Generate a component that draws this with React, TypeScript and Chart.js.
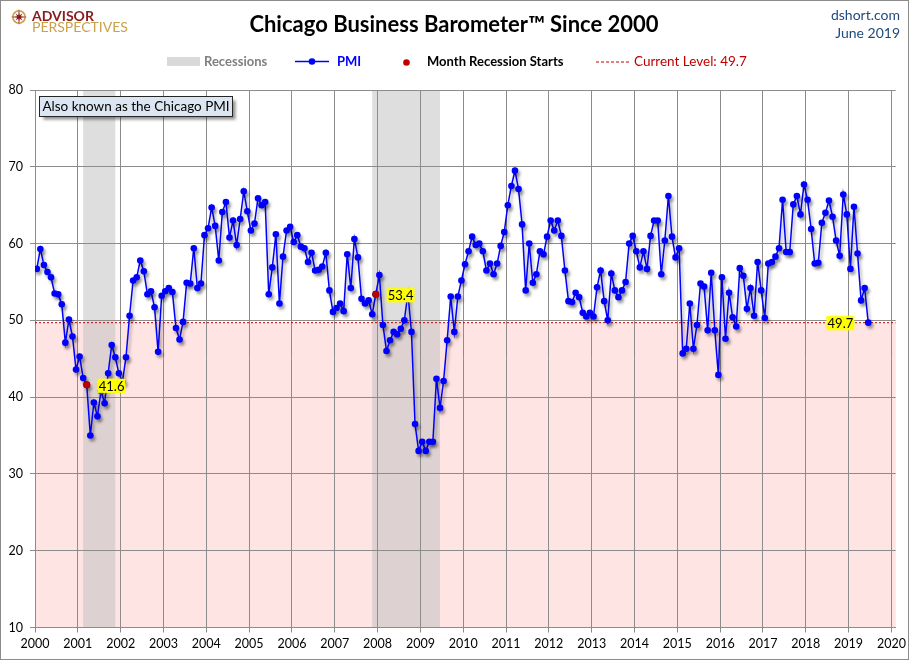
import React, { useEffect, useRef } from "react";
import { Chart, registerables } from "chart.js";

Chart.register(...registerables);

// ---------- DATA ----------
const START_YEAR = 2000;
const pmi2000 = [56.7, 59.3, 57.2, 56.3, 55.6, 53.5, 53.4, 52.1, 47.1, 50.1, 47.9, 43.6];
const pmi2001 = [45.3, 42.5, 41.6, 35.0, 39.3, 37.5, 40.8, 39.2, 43.1, 46.8, 45.2, 43.1];
const pmi2002 = [42.0, 45.2, 50.6, 55.2, 55.6, 57.8, 56.4, 53.4, 53.8, 51.7, 45.9, 53.2];
const pmi2003 = [53.8, 54.2, 53.7, 49.0, 47.5, 49.8, 54.9, 54.8, 59.4, 54.2, 54.8, 61.1];
const pmi2004 = [62.0, 64.7, 62.3, 57.8, 64.1, 65.4, 60.8, 63.0, 59.8, 63.2, 66.8, 64.2];
const pmi2005 = [61.7, 62.6, 65.9, 65.0, 65.4, 53.4, 56.9, 61.2, 52.2, 58.3, 61.7, 62.2];
const pmi2006 = [60.2, 61.1, 59.6, 59.4, 57.6, 58.8, 56.5, 56.6, 57.0, 58.8, 53.9, 51.1];
const pmi2007 = [51.6, 52.2, 51.2, 58.6, 54.2, 60.6, 58.2, 52.8, 52.2, 52.6, 50.8, 53.4];
const pmi2008 = [55.9, 49.4, 46.0, 47.4, 48.5, 48.2, 48.9, 50.0, 53.5, 48.5, 36.5, 33.0];
const pmi2009 = [34.2, 33.0, 34.2, 34.2, 42.4, 38.6, 42.1, 47.4, 53.1, 48.5, 53.1, 55.2];
const pmi2010 = [57.3, 59.0, 60.9, 59.8, 60.0, 59.0, 56.5, 57.4, 56.0, 57.4, 59.7, 61.5];
const pmi2011 = [65.0, 67.5, 69.5, 67.1, 62.5, 53.9, 60.0, 54.9, 56.0, 59.0, 58.6, 60.9];
const pmi2012 = [63.0, 61.7, 63.0, 61.0, 56.5, 52.5, 52.4, 53.6, 53.0, 51.0, 50.5, 51.0];
const pmi2013 = [50.5, 54.3, 56.5, 52.5, 50.0, 56.1, 53.9, 53.0, 53.9, 55.0, 60.0, 61.0];
const pmi2014 = [59.0, 56.9, 59.0, 56.7, 61.0, 63.0, 63.0, 56.0, 60.4, 66.2, 60.9, 58.2];
const pmi2015 = [59.4, 45.7, 46.3, 52.2, 46.3, 49.4, 54.8, 54.4, 48.7, 56.2, 48.7, 42.9];
const pmi2016 = [55.6, 47.6, 53.6, 50.4, 49.2, 56.8, 55.8, 51.5, 54.2, 50.6, 57.6, 53.9];
const pmi2017 = [50.3, 57.4, 57.6, 58.3, 59.4, 65.7, 58.9, 58.9, 65.1, 66.2, 63.8, 67.7];
const pmi2018 = [65.7, 61.9, 57.4, 57.5, 62.7, 64.0, 65.6, 63.5, 60.4, 58.4, 66.4, 63.8];
const pmi2019 = [56.7, 64.8, 58.7, 52.6, 54.2, 49.7];

const PMI = [
  ...pmi2000, ...pmi2001, ...pmi2002, ...pmi2003, ...pmi2004, ...pmi2005,
  ...pmi2006, ...pmi2007, ...pmi2008, ...pmi2009, ...pmi2010, ...pmi2011,
  ...pmi2012, ...pmi2013, ...pmi2014, ...pmi2015, ...pmi2016, ...pmi2017,
  ...pmi2018, ...pmi2019,
];

const YEAR_TICKS = [2000, 2001, 2002, 2003, 2004, 2005, 2006, 2007, 2008, 2009, 2010,
  2011, 2012, 2013, 2014, 2015, 2016, 2017, 2018, 2019, 2020];
const Y_TICKS = [10, 20, 30, 40, 50, 60, 70, 80];
const RECESSIONS = [
  { start: "2001-03", end: "2001-11" },
  { start: "2007-12", end: "2009-06" },
];
const RECESSION_STARTS = ["2001-03", "2007-12"];
const X_MAX = 2020.1;

const TITLE = "Chicago Business Barometer\u2122 Since 2000";
const NOTE = "Also known as the Chicago PMI";
const SITE = "dshort.com";
const DATE_LABEL = "June 2019";

// ---------- helpers ----------
const monthIndex = (s: string) => {
  const [y, m] = s.split("-").map(Number);
  return (y - START_YEAR) * 12 + (m - 1);
};
const pos = (i: number) => START_YEAR + (i + 0.5) / 12;
const LAST = PMI[PMI.length - 1];
const FONT = 'Lato, "Noto Sans", "DejaVu Sans", sans-serif';

const GRID = "#8C8C8C";
const BLUE = "#0000FF";
const RED = "#C00000";

function drawLabel(ctx: CanvasRenderingContext2D, text: string, x: number, y: number, align: "left" | "right") {
  ctx.save();
  ctx.font = `13px ${FONT}`;
  const w = ctx.measureText(text).width;
  const left = align === "left" ? x : x - w;
  ctx.shadowColor = "rgba(255,255,0,0.9)";
  ctx.shadowBlur = 3;
  ctx.fillStyle = "#FFFF00";
  ctx.fillRect(left - 1, y - 7, w + 2, 14);
  ctx.shadowBlur = 0;
  ctx.fillStyle = "#000";
  ctx.textBaseline = "middle";
  ctx.textAlign = "left";
  ctx.fillText(text, left, y + 0.5);
  ctx.restore();
}

const decorPlugin = {
  id: "decor",
  beforeDraw(chart: any) {
    const { ctx, chartArea } = chart;
    const xs = chart.scales.x;
    const ys = chart.scales.y;
    ctx.save();
    ctx.fillStyle = "#FFFFFF";
    ctx.fillRect(0, 0, chart.width, chart.height);
    // pink zone below current level
    const yl = ys.getPixelForValue(LAST);
    ctx.fillStyle = "rgb(255,228,228)";
    ctx.fillRect(chartArea.left, yl, chartArea.right - chartArea.left, chartArea.bottom - yl);
    // recession bands
    ctx.fillStyle = "rgba(190,190,190,0.5)";
    RECESSIONS.forEach((r) => {
      const x0 = xs.getPixelForValue(pos(monthIndex(r.start)) - 1 / 12);
      const x1 = xs.getPixelForValue(pos(monthIndex(r.end)));
      ctx.fillRect(x0, chartArea.top, x1 - x0, chartArea.bottom - chartArea.top);
    });
    ctx.restore();
  },
  beforeDatasetDraw(chart: any, args: any) {
    if (args.index === 0) {
      const ctx = chart.ctx;
      ctx.save();
      ctx.shadowColor = "rgba(0,0,0,0.35)";
      ctx.shadowBlur = 3;
      ctx.shadowOffsetX = 2;
      ctx.shadowOffsetY = 3;
    }
  },
  afterDatasetDraw(chart: any, args: any) {
    if (args.index === 0) chart.ctx.restore();
  },
  afterDraw(chart: any) {
    const { ctx } = chart;
    const xs = chart.scales.x;
    const ys = chart.scales.y;

    // data labels
    RECESSION_STARTS.forEach((s) => {
      const i = monthIndex(s);
      const px = xs.getPixelForValue(pos(i));
      const py = ys.getPixelForValue(PMI[i]);
      drawLabel(ctx, PMI[i].toFixed(1), px + 12, py + 1, "left");
    });
    {
      const i = PMI.length - 1;
      const px = xs.getPixelForValue(pos(i));
      const py = ys.getPixelForValue(PMI[i]);
      drawLabel(ctx, PMI[i].toFixed(1), px - 15, py + 0.5, "right");
    }

    ctx.save();
    // note box
    ctx.save();
    ctx.shadowColor = "rgba(0,0,0,0.45)";
    ctx.shadowBlur = 3;
    ctx.shadowOffsetX = 3;
    ctx.shadowOffsetY = 3;
    ctx.fillStyle = "#DCE6F2";
    ctx.fillRect(39.5, 96.5, 193, 20);
    ctx.restore();
    ctx.strokeStyle = "#262626";
    ctx.lineWidth = 1;
    ctx.strokeRect(39.5, 96.5, 193, 20);
    ctx.fillStyle = "#000";
    ctx.font = `13.5px ${FONT}`;
    ctx.textAlign = "center";
    ctx.textBaseline = "middle";
    ctx.fillText(NOTE, 136, 107);

    // title
    ctx.font = `bold 22px ${FONT}`;
    ctx.fillStyle = "#000";
    ctx.textAlign = "center";
    ctx.fillText(TITLE, 454, 25);

    // site & date
    ctx.textAlign = "right";
    ctx.fillStyle = "#1F497D";
    ctx.font = `14px ${FONT}`;
    ctx.fillText(SITE, 900, 15);
    ctx.fillText(DATE_LABEL, 900, 33);

    // logo
    const cx = 19, cy = 17;
    ctx.strokeStyle = "#C9A14A";
    ctx.lineWidth = 1.6;
    ctx.beginPath();
    ctx.arc(cx, cy, 6.2, 0, Math.PI * 2);
    ctx.stroke();
    ctx.fillStyle = "#8B1A1A";
    ctx.beginPath();
    for (let k = 0; k < 16; k++) {
      const ang = (k * Math.PI) / 8 - Math.PI / 2;
      const r = k % 4 === 0 ? 8.5 : k % 2 === 0 ? 5 : 2;
      const x = cx + r * Math.cos(ang);
      const y = cy + r * Math.sin(ang);
      if (k === 0) ctx.moveTo(x, y);
      else ctx.lineTo(x, y);
    }
    ctx.closePath();
    ctx.fill();
    ctx.textAlign = "left";
    ctx.fillStyle = "#8B1A1A";
    ctx.font = `bold 14px ${FONT}`;
    ctx.fillText("ADVISOR", 32, 16);
    ctx.fillStyle = "#C9A14A";
    ctx.font = `14px ${FONT}`;
    ctx.fillText("PERSPECTIVES", 32, 27.5);

    // legend
    const ly = 61.5;
    ctx.fillStyle = "#D9D9D9";
    ctx.fillRect(167, 57, 33, 9);
    ctx.font = `bold 13px ${FONT}`;
    ctx.fillStyle = "#808080";
    ctx.fillText("Recessions", 204, ly);

    ctx.strokeStyle = BLUE;
    ctx.lineWidth = 1.5;
    ctx.beginPath();
    ctx.moveTo(295, ly);
    ctx.lineTo(329, ly);
    ctx.stroke();
    ctx.fillStyle = BLUE;
    ctx.beginPath();
    ctx.arc(312, ly, 3.3, 0, Math.PI * 2);
    ctx.fill();
    ctx.fillText("PMI", 337, ly);

    ctx.fillStyle = RED;
    ctx.beginPath();
    ctx.arc(406.5, ly + 1, 3.3, 0, Math.PI * 2);
    ctx.fill();
    ctx.fillStyle = "#000";
    ctx.fillText("Month Recession Starts", 427, ly);

    ctx.strokeStyle = RED;
    ctx.lineWidth = 1;
    ctx.setLineDash([3, 2]);
    ctx.beginPath();
    ctx.moveTo(596, ly + 0.5);
    ctx.lineTo(631, ly + 0.5);
    ctx.stroke();
    ctx.setLineDash([]);
    ctx.fillStyle = RED;
    ctx.font = `13.5px ${FONT}`;
    ctx.fillText(`Current Level: ${LAST.toFixed(1)}`, 634, ly);

    // frame
    ctx.strokeStyle = "#8C8C8C";
    ctx.lineWidth = 1;
    ctx.strokeRect(0.5, 0.5, 908, 659);
    ctx.restore();
  },
};

export default function App() {
  const ref = useRef<HTMLCanvasElement | null>(null);

  useEffect(() => {
    document.body.style.margin = "0";
    const canvas = ref.current;
    if (!canvas) return;

    const pmiPoints = PMI.map((v, i) => ({ x: pos(i), y: v }));
    const startPoints = RECESSION_STARTS.map((s) => {
      const i = monthIndex(s);
      return { x: pos(i), y: PMI[i] };
    });
    const levelPoints = [
      { x: START_YEAR, y: LAST },
      { x: X_MAX, y: LAST },
    ];

    const chart = new Chart(canvas, {
      type: "line",
      data: {
        datasets: [
          {
            label: "PMI",
            data: pmiPoints,
            borderColor: BLUE,
            backgroundColor: BLUE,
            borderWidth: 1.5,
            pointRadius: 3.3,
            pointBackgroundColor: BLUE,
            pointBorderWidth: 0,
            tension: 0,
            order: 2,
          },
          {
            label: "Month Recession Starts",
            data: startPoints,
            showLine: false,
            pointRadius: 3.4,
            pointBackgroundColor: RED,
            pointBorderColor: "#7A0000",
            pointBorderWidth: 0.5,
            order: 1,
          },
          {
            label: "Current Level",
            data: levelPoints,
            borderColor: RED,
            borderWidth: 1,
            borderDash: [2, 2],
            pointRadius: 0,
            order: 3,
          },
        ],
      },
      options: {
        responsive: false,
        animation: false,
        devicePixelRatio: 1,
        layout: { padding: { top: 90, right: 14, bottom: 0, left: 0 } },
        plugins: {
          legend: { display: false },
          tooltip: { enabled: false },
          title: { display: false },
        },
        scales: {
          x: {
            type: "linear",
            min: START_YEAR,
            max: X_MAX,
            afterBuildTicks: (s: any) => {
              s.ticks = YEAR_TICKS.map((v) => ({ value: v }));
            },
            afterFit: (s: any) => {
              s.height = 33.5;
            },
            grid: { color: GRID, lineWidth: 1, tickLength: 5, drawTicks: true },
            border: { color: GRID, width: 1 },
            ticks: {
              color: "#000",
              font: { family: FONT, size: 12.5 },
              padding: 4,
              maxRotation: 0,
              autoSkip: false,
              callback: (v: any) => String(v),
            },
          },
          y: {
            type: "linear",
            min: Y_TICKS[0],
            max: Y_TICKS[Y_TICKS.length - 1],
            afterBuildTicks: (s: any) => {
              s.ticks = Y_TICKS.map((v) => ({ value: v }));
            },
            afterFit: (s: any) => {
              s.width = 35;
            },
            grid: { color: GRID, lineWidth: 1, tickLength: 5, drawTicks: true },
            border: { color: GRID, width: 1 },
            ticks: {
              color: "#000",
              font: { family: FONT, size: 12.5 },
              padding: 7,
              callback: (v: any) => String(v),
            },
          },
        },
      },
      plugins: [decorPlugin],
    } as any);

    return () => chart.destroy();
  }, []);

  return (
    <div style={{ width: 910, height: 661 }}>
      <canvas ref={ref} width={910} height={661} style={{ display: "block", width: 910, height: 661 }} />
    </div>
  );
}
